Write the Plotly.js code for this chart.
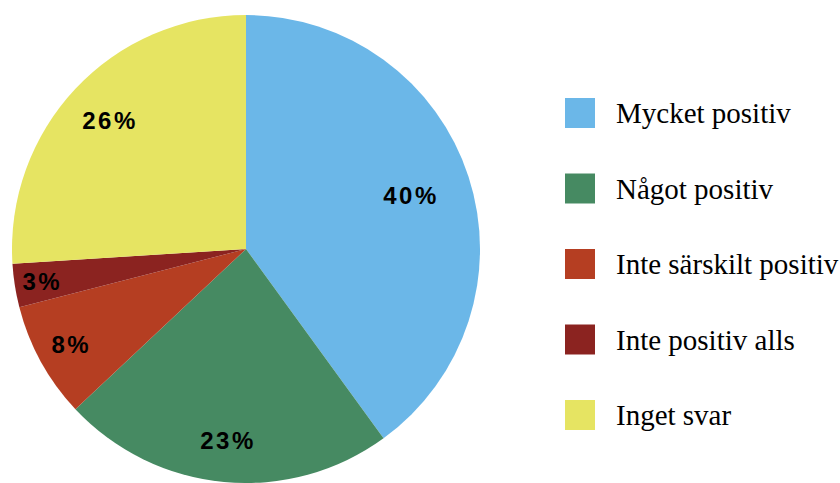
<!DOCTYPE html>
<html>
<head>
<meta charset="utf-8">
<script src="https://cdn.plot.ly/plotly-3.0.1.min.js"></script>
<style>
html,body{margin:0;padding:0;background:#fff;}
#chart{width:840px;height:483px;}
g.annotation[data-index="0"] text,
g.annotation[data-index="1"] text,
g.annotation[data-index="2"] text,
g.annotation[data-index="3"] text,
g.annotation[data-index="4"] text{letter-spacing:2.5px;}
</style>
</head>
<body>
<div id="chart"></div>
<script>
// Data
const categories = ["Mycket positiv", "Något positiv", "Inte särskilt positiv", "Inte positiv alls", "Inget svar"];
const values = [40, 23, 8, 3, 26];
const colors = ["#6BB7E8", "#468A62", "#B53E22", "#8B2320", "#E6E462"];

// Layout helpers (pixels)
const W = 840, H = 483;
const cx = 246, cy = 249, R = 234;
const labelR = [0.74, 0.82, 0.85, 0.88, 0.80];
const px = x => x / W;
const py = y => 1 - y / H;

const total = values.reduce((a, b) => a + b, 0);
const annotations = [];
const shapes = [];
let cum = 0;
values.forEach((v, i) => {
  const mid = (cum + v / 2) / total * 2 * Math.PI;
  cum += v;
  const r = R * labelR[i];
  annotations.push({
    x: px(cx + r * Math.sin(mid)), y: py(cy - r * Math.cos(mid)),
    xref: 'paper', yref: 'paper', showarrow: false,
    text: Math.round(v / total * 100) + '%',
    font: {family: 'Liberation Sans, Arial, sans-serif', size: 24, color: '#000', weight: 'bold'},
    xanchor: 'center', yanchor: 'middle'
  });
});

// Manual legend
const legTop = 113, legStep = 75.5, sw = 30;
categories.forEach((c, i) => {
  const yc = legTop + i * legStep;
  shapes.push({
    type: 'rect', xref: 'paper', yref: 'paper',
    x0: px(565), x1: px(565 + sw), y0: py(yc - sw / 2), y1: py(yc + sw / 2),
    fillcolor: colors[i], line: {width: 0}
  });
  annotations.push({
    x: px(614), y: py(yc), xref: 'paper', yref: 'paper', showarrow: false,
    text: c, xanchor: 'left', yanchor: 'middle',
    font: {family: 'Liberation Serif, Times New Roman, serif', size: 29, color: '#000'}
  });
});

const data = [{
  type: 'pie',
  labels: categories,
  values: values,
  marker: {colors: colors, line: {width: 0}},
  sort: false,
  direction: 'clockwise',
  rotation: 0,
  textinfo: 'none',
  hoverinfo: 'label+percent',
  showlegend: false,
  domain: {x: [px(cx - R), px(cx + R)], y: [py(cy + R), py(cy - R)]}
}];

const layout = {
  width: W, height: H,
  margin: {l: 0, r: 0, t: 0, b: 0},
  paper_bgcolor: '#fff',
  showlegend: false,
  annotations: annotations,
  shapes: shapes
};

Plotly.newPlot('chart', data, layout, {displayModeBar: false, staticPlot: true});
</script>
</body>
</html>
